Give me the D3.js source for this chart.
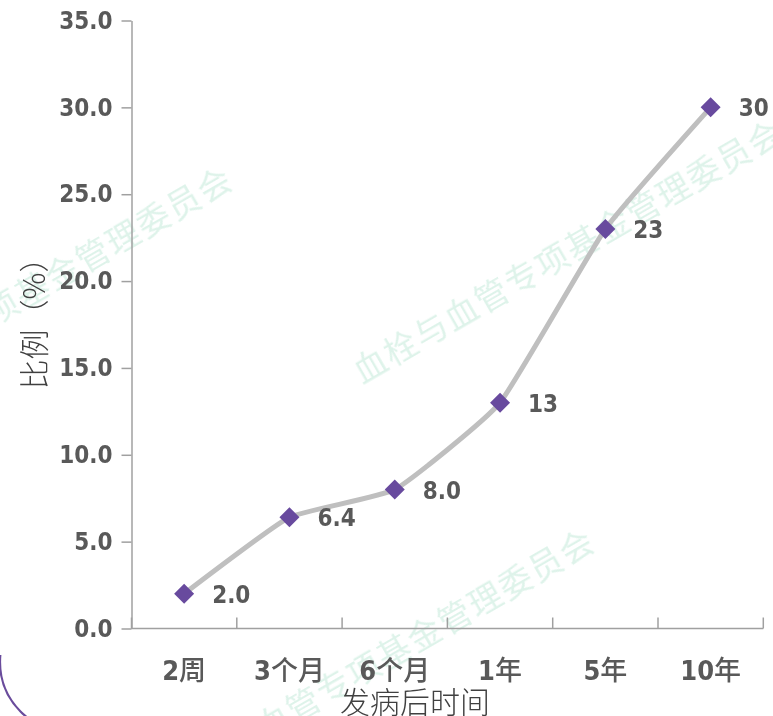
<!DOCTYPE html>
<html>
<head>
<meta charset="utf-8">
<script src="https://cdn.jsdelivr.net/npm/d3@7/dist/d3.min.js"></script>
<style>
  html, body { margin: 0; padding: 0; background: #fff; }
  svg { display: block; }
</style>
</head>
<body>
<svg id="chart" width="773" height="716"></svg>
<script>
// Proportion over time after onset
const categories = ["2周", "3个月", "6个月", "1年", "5年", "10年"];
const values = [2.0, 6.4, 8.0, 13, 23, 30];
const valueLabels = ["2.0", "6.4", "8.0", "13", "23", "30"];
const yTicks = [0, 5, 10, 15, 20, 25, 30, 35];
const xTitle = "发病后时间";
const yTitle = "比例（%）";
const watermark = "血栓与血管专项基金管理委员会";

const svg = d3.select("#chart");

const numFont = "'DejaVu Sans Condensed', 'DejaVu Sans', sans-serif";
const cjkFont = "'Noto Sans CJK SC', 'Noto Sans', sans-serif";
const textColor = "#595959";
const axisColor = "#a0a0a0";

const x = d3.scaleBand().domain(categories).range([131.5, 763.3]).padding(0);
const y = d3.scaleLinear().domain([0, 35]).range([628.5, 20.5]);

// decorative slide arc in the lower-left corner
svg.append("clipPath").attr("id", "cornerClip")
  .append("rect").attr("x", 0).attr("y", 655).attr("width", 45).attr("height", 61);
svg.append("circle")
  .attr("cx", 70).attr("cy", 662).attr("r", 70)
  .attr("fill", "none").attr("stroke", "#6a4c9c").attr("stroke-width", 2.2)
  .attr("clip-path", "url(#cornerClip)");

// watermark text
const wm = svg.append("g").attr("fill", "#d3efe3").attr("opacity", 0.75)
  .style("font-family", cjkFont).style("font-size", "33px");
[
  { x: 236, y: 186, anchor: "end" },
  { x: 362, y: 384, anchor: "start" },
  { x: 598, y: 548, anchor: "end" }
].forEach(p => {
  wm.append("text")
    .attr("transform", `translate(${p.x},${p.y}) rotate(-30)`)
    .attr("text-anchor", p.anchor)
    .attr("letter-spacing", 2)
    .text(watermark);
});

// y axis
const yAxis = svg.append("g")
  .attr("transform", `translate(${x.range()[0]},0)`)
  .call(d3.axisLeft(y).tickValues(yTicks).tickFormat(d3.format(".1f"))
    .tickSize(10).tickSizeOuter(0).tickPadding(9));
yAxis.select(".domain").attr("stroke", axisColor).attr("stroke-width", 1.5);
yAxis.selectAll(".tick line").attr("stroke", axisColor).attr("stroke-width", 1.5);
yAxis.selectAll(".tick text")
  .attr("fill", textColor)
  .style("font-family", numFont)
  .style("font-weight", "bold")
  .style("font-size", "24px");

// x axis: baseline plus category boundary ticks
const xg = svg.append("g");
xg.append("line")
  .attr("x1", x.range()[0]).attr("x2", x.range()[1])
  .attr("y1", y(0)).attr("y2", y(0))
  .attr("stroke", axisColor).attr("stroke-width", 1.5);
const bounds = categories.map(c => x(c)).concat([x(categories[categories.length - 1]) + x.bandwidth()]);
xg.selectAll("line.bt").data(bounds).join("line")
  .attr("class", "bt")
  .attr("x1", d => d).attr("x2", d => d)
  .attr("y1", y(0)).attr("y2", y(0) - 11)
  .attr("stroke", axisColor).attr("stroke-width", 1.5);

const xl = xg.selectAll("text.xl").data(categories).join("text")
  .attr("class", "xl")
  .attr("x", d => x(d) + x.bandwidth() / 2)
  .attr("y", 680)
  .attr("text-anchor", "middle")
  .attr("fill", textColor)
  .style("font-size", "27px");
xl.each(function (d) {
  const t = d3.select(this);
  const m = d.match(/^(\d+)(.*)$/);
  t.append("tspan").style("font-family", numFont).style("font-weight", "bold").text(m[1]);
  t.append("tspan").style("font-family", cjkFont).style("font-weight", 500).text(m[2]);
});

// axis titles
svg.append("text")
  .attr("x", 415).attr("y", 713)
  .attr("text-anchor", "middle")
  .attr("fill", "#404040")
  .style("font-family", cjkFont).style("font-size", "30px").style("font-weight", 300)
  .text(xTitle);
svg.append("text")
  .attr("transform", "translate(45,316) rotate(-90)")
  .attr("text-anchor", "middle")
  .attr("fill", "#404040")
  .style("font-family", cjkFont).style("font-size", "30px").style("font-weight", 300)
  .text(yTitle);

// smoothed series line
const pts = categories.map((c, i) => ({ c, v: values[i], label: valueLabels[i] }));
const line = d3.line()
  .x(d => x(d.c) + x.bandwidth() / 2)
  .y(d => y(d.v))
  .curve(d3.curveCardinal.tension(0.6));
svg.append("path").datum(pts)
  .attr("d", line)
  .attr("fill", "none")
  .attr("stroke", "#bfbfbf")
  .attr("stroke-width", 5)
  .attr("stroke-linejoin", "round");

// diamond markers
const diamond = d3.symbol().type(d3.symbolSquare).size(200);
svg.selectAll("path.mk").data(pts).join("path")
  .attr("class", "mk")
  .attr("d", diamond)
  .attr("transform", d => `translate(${x(d.c) + x.bandwidth() / 2},${y(d.v)}) rotate(45)`)
  .attr("fill", "#684a9e");

// value labels
svg.selectAll("text.vl").data(pts).join("text")
  .attr("class", "vl")
  .attr("x", d => x(d.c) + x.bandwidth() / 2 + 28)
  .attr("y", d => y(d.v) + 9)
  .attr("fill", textColor)
  .style("font-family", numFont)
  .style("font-weight", "bold")
  .style("font-size", "24px")
  .text(d => d.label);
</script>
</body>
</html>
